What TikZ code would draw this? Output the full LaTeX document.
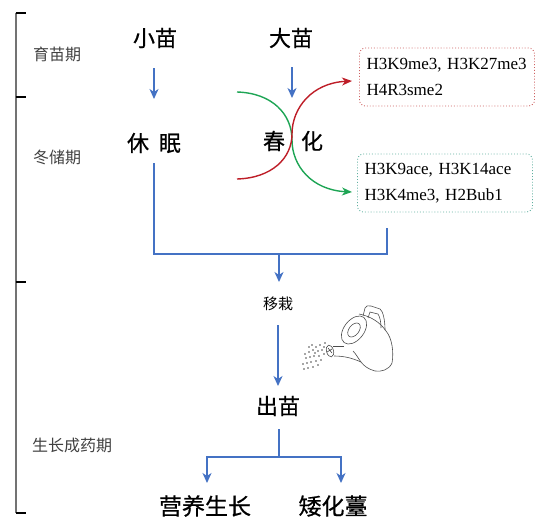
\documentclass[tikz,border=0pt]{standalone}
\usepackage{fontspec}
\setmainfont{Liberation Serif}
\newfontfamily\hei{Noto Sans CJK SC}
\newfontfamily\heib{Noto Sans CJK SC}[FakeBold=0.6]
\usetikzlibrary{arrows.meta}

\definecolor{flowblue}{RGB}{68,114,196}
\definecolor{vred}{RGB}{190,30,40}
\definecolor{vgreen}{RGB}{30,165,85}
\definecolor{boxred}{RGB}{205,95,95}
\definecolor{boxgreen}{RGB}{95,175,160}

\begin{document}
\begin{tikzpicture}[x=1pt,y=1pt,yscale=-1,
  stage/.style={font=\heib\fontsize{22}{24}\selectfont, inner sep=0pt},
  period/.style={font=\hei\fontsize{16}{18}\selectfont, text=black!75, inner sep=0pt},
  flow/.style={draw=flowblue, line width=1.5pt, -{Stealth[length=10pt,width=9pt,inset=3pt]}},
  link/.style={draw=flowblue, line width=1.5pt},
  turn/.style={line width=1.4pt, -{Stealth[length=10pt,width=8pt,inset=3pt]}},
  epibox/.style={rounded corners=6pt, dotted, line width=0.9pt, minimum width=175pt, minimum height=58pt,
    text width=167pt, align=left, inner xsep=4pt, font=\fontsize{17}{26}\selectfont},
  tickline/.style={line width=2pt},
  can/.style={draw=black!70, line width=0.6pt}]
\useasboundingbox (0,0) rectangle (537,522);

%left bracket with the period ticks
\draw[black!55, line width=1.2pt] (16,13) -- (16,513);
\foreach \y in {13,97,282,513}
  \draw[tickline] (15.5,\y) -- (26,\y);

% periods
\node[period] (p1) at (57,54) {育苗期};
\node[period] (p2) at (57,157) {冬储期};
\node[period] (p3) at (72,445) {生长成药期};

% stages
\node[stage] (xiaomiao) at (155,38) {小苗};
\node[stage] (damiao) at (291,38) {大苗};
\node[stage] (xiumian) at (154,143) {休\hspace{0.45em}眠};
\node[stage] (chun) at (274,141) {春};
\node[stage] (hua) at (312,141) {化};
\node[font=\hei\fontsize{15}{17}\selectfont, inner sep=0pt] (yizai) at (278,304) {移栽};
\node[stage] (chumiao) at (278,406) {出苗};
\node[stage, font=\heib\fontsize{23}{25}\selectfont] (yingyang) at (205,506) {营养生长};
\node[stage, font=\heib\fontsize{23}{25}\selectfont] (aihua) at (333,506) {矮化薹};

% histone marks
\node[epibox, draw=boxred] (repress) at (447,77) {\hspace*{3pt}H3K9me3, H3K27me3\\\hspace*{3pt}H4R3sme2};
\node[epibox, draw=boxgreen] (activate) at (445,183) {\hspace*{3pt}H3K9ace, H3K14ace\\\hspace*{3pt}H3K4me3, H2Bub1};

% connector ends
\coordinate (xm-out) at (154,68);
\coordinate (xm-in) at (154,99);
\coordinate (dm-out) at (292,67);
\coordinate (dm-in) at (292,98);
\coordinate (xu-out) at (154,163);
\coordinate (act-out) at (387,228);
\coordinate (merge) at (279,254);
\coordinate (yz-in) at (279,282);
\coordinate (yz-out) at (278,325);
\coordinate (cm-in) at (278,386);
\coordinate (cm-out) at (279,429);
\coordinate (split) at (279,457);
\coordinate (yy-in) at (207,483);
\coordinate (ah-in) at (341,483);

\draw[flow] (xm-out) -- (xm-in);
\draw[flow] (dm-out) -- (dm-in);
\draw[link] (xu-out) |- (act-out |- merge) -- (act-out);
\draw[flow] (merge) -- (yz-in);
\draw[flow] (yz-out) -- (cm-in);
\draw[link] (cm-out) -- (split);
\draw[flow] (split) -| (yy-in);
\draw[flow] (split) -| (ah-in);

% vernalization curves
\draw[turn, vgreen] (237,92) .. controls (272,93) and (292,114) .. (292,140)
  .. controls (292,166) and (312,190) .. (352,192);
\draw[turn, vred] (237,179) .. controls (272,178) and (292,158) .. (292,134)
  .. controls (292,108) and (312,83) .. (352,81);

% watering can
\begin{scope}[can]
  % handle
  \draw (363,316) -- (365,308) .. controls (366,306) and (368,305) .. (371,306) -- (380,309)
    .. controls (383,311) and (385,320) .. (385,330);
  \draw (368,318) -- (370,312) -- (378,314) .. controls (380,317) and (381,322) .. (381,328);
  % body
  \draw (359,314) .. controls (370,316) and (380,322) .. (386,331)
    .. controls (392,338) and (394,352) .. (392,363)
    .. controls (389,370) and (381,372) .. (375,371)
    .. controls (368,369) and (364,366) .. (361,362)
    .. controls (358,358) and (356,354) .. (353,351);
  % opening
  \draw[rotate around={-52:(354,330)}] (354,330) ellipse (16 and 10);
  \draw[rotate around={-52:(354,330)}] (354,330) ellipse (8 and 5);
  % spout and rose
  \draw (344,346) -- (333,346);
  \draw (361,362) .. controls (352,358) and (344,356) .. (334,356);
  \draw[rotate around={-15:(330,351)}] (330,351) ellipse (3.5 and 6);
  \draw (328,348) -- (332,353) (327,352) -- (332,349);
\end{scope}
% spray
\foreach \sx/\sy in {325/343,320/345,316/347,322/350,318/351,313/350,309/352,
  324/354,319/356,314/356,310/357,306/358,321/360,316/361,311/362,307/363,
  303/364,318/365,313/367,308/368,304/369,324/347,312/345,309/347,305/354,315/353}
  \fill[black!70] (\sx,\sy) circle (0.85);

\end{tikzpicture}
\end{document}
